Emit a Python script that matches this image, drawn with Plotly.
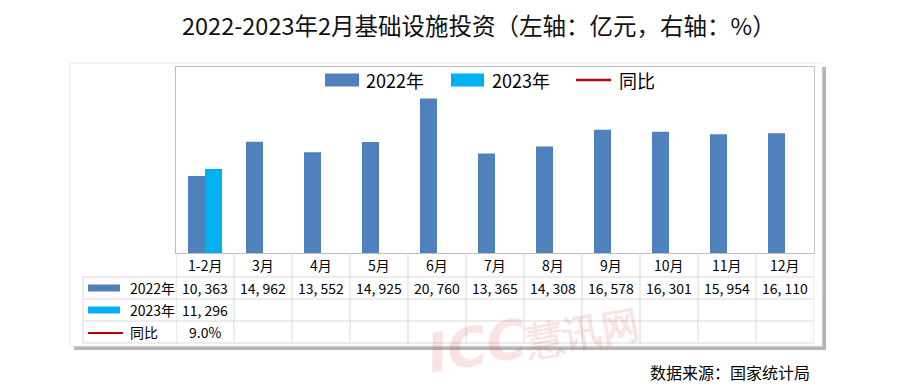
import plotly.graph_objects as go

# ---------------- data ----------------
categories = ["1-2月", "3月", "4月", "5月", "6月", "7月", "8月", "9月", "10月", "11月", "12月"]
values_2022 = [10363, 14962, 13552, 14925, 20760, 13365, 14308, 16578, 16301, 15954, 16110]
categories_2023 = ["1-2月"]
values_2023 = [11296]
categories_yoy = ["1-2月"]
values_yoy = [9.0]
series_names = ["2022年", "2023年", "同比"]
title_text = "2022-2023年2月基础设施投资（左轴：亿元，右轴：%）"
source_text = "数据来源：国家统计局"

C2022 = "#4f81bd"
C2023 = "#00b0f0"
CYOY = "#c00000"
FONT = "Noto Sans CJK SC, Noto Sans, sans-serif"

# ---------------- geometry helpers (page pixel -> paper) ----------------
OFF = 8  # page body margin
W, H = 900 - OFF, 392 - OFF
L, R, T, B = 176, 814, 67, 253  # plot area in page pixels


def px(x):
    return (x - L) / (R - L)


def py(y):
    return (B - y) / (B - T)


fig = go.Figure()
fig.add_trace(go.Bar(x=categories, y=values_2022, name=series_names[0],
                     marker=dict(color=C2022, line=dict(width=0))))
fig.add_trace(go.Bar(x=categories_2023, y=values_2023, name=series_names[1],
                     marker=dict(color=C2023, line=dict(width=0))))
fig.add_trace(go.Scatter(x=categories_yoy, y=values_yoy, name=series_names[2],
                         mode="lines", line=dict(color=CYOY, width=2), yaxis="y2"))

shapes = []
annotations = []

# outer frame with shadow
shapes.append(dict(type="rect", xref="paper", yref="paper", layer="below",
                   x0=px(74), x1=px(826), y0=py(350), y1=py(67),
                   fillcolor="#b5b5b5", line=dict(width=0)))
shapes.append(dict(type="rect", xref="paper", yref="paper", layer="below",
                   x0=px(70), x1=px(822), y0=py(346), y1=py(63),
                   fillcolor="#ffffff", line=dict(color="#ececec", width=1)))

# table grid
GRID = "#d9d9d9"
row_lines = [277, 299, 321, 343]
for yl in row_lines:
    shapes.append(dict(type="line", xref="paper", yref="paper",
                       x0=px(83), x1=1, y0=py(yl), y1=py(yl),
                       line=dict(color=GRID, width=1)))
n = len(categories)
for i in range(n + 1):
    shapes.append(dict(type="line", xref="x", yref="paper",
                       x0=i - 0.5, x1=i - 0.5, y0=py(253), y1=py(343),
                       line=dict(color=GRID, width=1)))
shapes.append(dict(type="line", xref="paper", yref="paper",
                   x0=px(83), x1=px(83), y0=py(277), y1=py(343),
                   line=dict(color=GRID, width=1)))

# table text
row_y = [265, 288, 310, 332]
TF = dict(family=FONT, size=14, color="#000000")
for c in categories:
    annotations.append(dict(x=c, xref="x", y=py(row_y[0]), yref="paper", text=c,
                            showarrow=False, font=TF, xanchor="center", yanchor="middle"))


def fmt(v):
    return f"{v:,}".replace(",", ", ")


for c, v in zip(categories, values_2022):
    annotations.append(dict(x=c, xref="x", y=py(row_y[1]), yref="paper", text=fmt(v),
                            showarrow=False, font=TF, xanchor="center", yanchor="middle"))
for c, v in zip(categories_2023, values_2023):
    annotations.append(dict(x=c, xref="x", y=py(row_y[2]), yref="paper", text=fmt(v),
                            showarrow=False, font=TF, xanchor="center", yanchor="middle"))
for c, v in zip(categories_yoy, values_yoy):
    annotations.append(dict(x=c, xref="x", y=py(row_y[3]), yref="paper", text=f"{v:.1f}%",
                            showarrow=False, font=TF, xanchor="center", yanchor="middle"))

# table row labels with symbols
for k, (name, col) in enumerate(zip(series_names, [C2022, C2023, CYOY])):
    yc = row_y[k + 1]
    if k < 2:
        shapes.append(dict(type="rect", xref="paper", yref="paper",
                           x0=px(88), x1=px(120), y0=py(yc + 3.5), y1=py(yc - 3.5),
                           fillcolor=col, line=dict(width=0)))
    else:
        shapes.append(dict(type="line", xref="paper", yref="paper",
                           x0=px(88), x1=px(123), y0=py(yc + 1), y1=py(yc + 1),
                           line=dict(color=col, width=2)))
    annotations.append(dict(x=px(128), xref="paper", y=py(yc), yref="paper", text=name,
                            showarrow=False, font=TF, xanchor="left", yanchor="middle"))

# custom legend inside the plot area
LF = dict(family=FONT, size=18, color="#000000")
ly = 80
legend_items = [(325, 359, 364, C2022, "rect"), (451, 484, 490, C2023, "rect"),
                (576, 611, 617, CYOY, "line")]
for (x0, x1, xt, col, kind), name in zip(legend_items, series_names):
    if kind == "rect":
        shapes.append(dict(type="rect", xref="paper", yref="paper",
                           x0=px(x0), x1=px(x1), y0=py(ly + 6.5), y1=py(ly - 6.5),
                           fillcolor=col, line=dict(width=0)))
    else:
        shapes.append(dict(type="line", xref="paper", yref="paper",
                           x0=px(x0), x1=px(x1), y0=py(ly), y1=py(ly),
                           line=dict(color=col, width=2.5)))
    annotations.append(dict(x=px(xt), xref="paper", y=py(ly), yref="paper", text=name,
                            showarrow=False, font=LF, xanchor="left", yanchor="middle"))

# source
annotations.append(dict(x=px(812), xref="paper", y=py(372), yref="paper", text=source_text,
                        showarrow=False, font=dict(family=FONT, size=16, color="#000000"),
                        xanchor="right", yanchor="middle"))

# title
annotations.append(dict(x=px(479), xref="paper", y=py(25), yref="paper", text=title_text,
                        showarrow=False, borderpad=0,
                        font=dict(family=FONT, size=23.5, color="#111111"),
                        xanchor="center", yanchor="middle"))

# watermark
WM = dict(family="DejaVu Sans, sans-serif", size=54, color="rgba(210,40,40,0.13)")
annotations.append(dict(x=px(532), xref="paper", y=py(336), yref="paper",
                        text="<b><i>ICC</i></b><span style='font-size:38px'><b>慧讯网</b></span>",
                        showarrow=False, font=WM, textangle=-10, borderpad=0,
                        xanchor="center", yanchor="middle"))

fig.update_layout(
    width=W, height=H,
    margin=dict(l=L - OFF, r=W - (R - OFF), t=T - OFF, b=H - (B - OFF), pad=0),
    paper_bgcolor="#ffffff",
    plot_bgcolor="#f8f8f8",
    barmode="group",
    bargap=0.414,
    bargroupgap=0,
    showlegend=False,
    xaxis=dict(type="category", categoryorder="array", categoryarray=categories,
               range=[-0.5, n - 0.5], showticklabels=False, ticks="",
               showgrid=False, zeroline=False, showline=True, mirror=True,
               linecolor="#bfbfbf", linewidth=1),
    yaxis=dict(range=[0, 25000], showticklabels=False, ticks="", showgrid=False,
               zeroline=False, showline=True, mirror=True, linecolor="#bfbfbf", linewidth=1),
    yaxis2=dict(overlaying="y", side="right", range=[-100, 100], visible=False),
    shapes=shapes,
    annotations=annotations,
)

fig.write_html("out.html")
